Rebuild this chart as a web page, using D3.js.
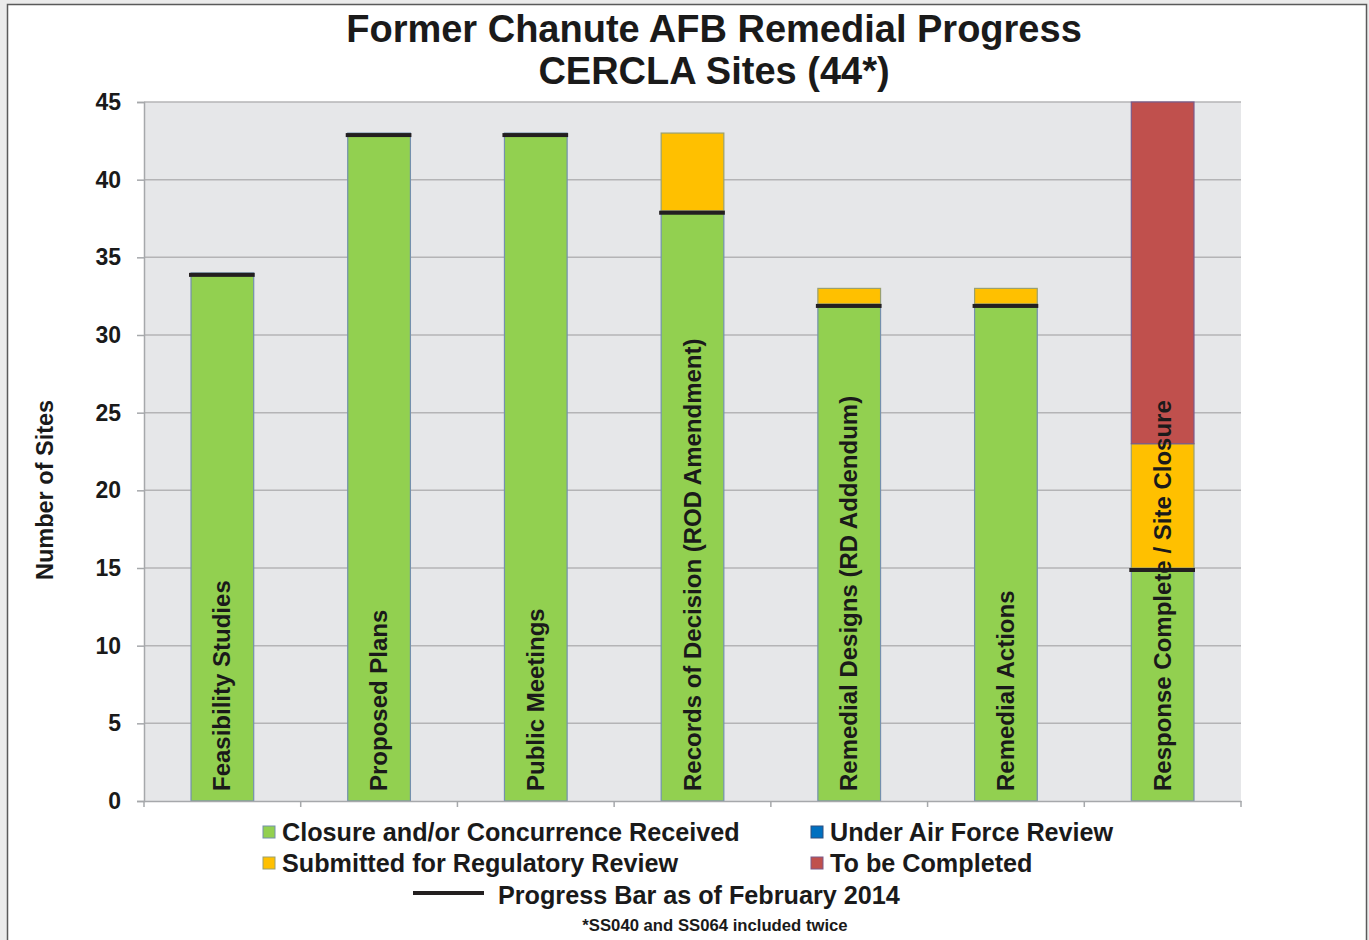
<!DOCTYPE html>
<html>
<head>
<meta charset="utf-8">
<script src="https://cdn.jsdelivr.net/npm/d3@7"></script>
<style>
  body { margin: 0; background: #ebebeb; }
  text { font-family: "Liberation Sans", Arial, sans-serif; font-weight: bold; fill: #1a1a1a; }
</style>
</head>
<body>
<div class="chart"></div>
<script>
var categories = ["Feasibility Studies", "Proposed Plans", "Public Meetings",
  "Records of Decision (ROD Amendment)", "Remedial Designs (RD Addendum)",
  "Remedial Actions", "Response Complete / Site Closure"];
var closure   = [34, 43, 43, 38, 32, 32, 15];
var airForce  = [0, 0, 0, 0, 0, 0, 0];
var submitted = [0, 0, 0, 5, 1, 1, 8];
var toDo      = [0, 0, 0, 0, 0, 0, 22];
var progress  = [34, 43, 43, 38, 32, 32, 15];
var yTicks = [0, 5, 10, 15, 20, 25, 30, 35, 40, 45];

var seriesKeys = ["closure", "airForce", "submitted", "toDo"];
var seriesNames = {
  closure: "Closure and/or Concurrence Received",
  airForce: "Under Air Force Review",
  submitted: "Submitted for Regulatory Review",
  toDo: "To be Completed"
};
var colors = { closure: "#92d050", airForce: "#0070c0", submitted: "#ffc000", toDo: "#c0504d" };
var strokes = { closure: "#7490ad", airForce: "#2f4f7f", submitted: "#9aa070", toDo: "#7a5a8a" };

var svgWidth = 1369, svgHeight = 940;
var margin = { top: 102, right: 128, bottom: 139, left: 144 };
var width = svgWidth - margin.left - margin.right;
var height = svgHeight - margin.top - margin.bottom;

var svg = d3.select('.chart')
  .append('svg')
  .attr('width', svgWidth)
  .attr('height', svgHeight);

// frame
svg.append('rect')
  .attr('x', 7.5).attr('y', 4.5)
  .attr('width', 1359).attr('height', 960)
  .attr('fill', '#fff')
  .attr('stroke', '#5a5a5a')
  .attr('stroke-width', 1.5);

var canvas = svg.append('g')
  .attr('transform', 'translate(' + margin.left + ',' + margin.top + ')');

var table = categories.map(function (c, i) {
  return { cat: c, closure: closure[i], airForce: airForce[i], submitted: submitted[i], toDo: toDo[i], progress: progress[i] };
});

var xScale = d3.scaleBand()
  .domain(categories)
  .range([0, width])
  .paddingInner(0.6)
  .paddingOuter(0.3);

var yScale = d3.scaleLinear()
  .domain([0, 45])
  .range([height, 0]);

canvas.append('rect')
  .attr('width', width).attr('height', height)
  .attr('fill', '#e6e7e9');

// gridlines
canvas.append('g')
  .selectAll('line')
  .data(yTicks.filter(function (d) { return d > 0; }))
  .enter()
  .append('line')
  .attr('x1', 0).attr('x2', width)
  .attr('y1', function (d) { return yScale(d); })
  .attr('y2', function (d) { return yScale(d); })
  .attr('stroke', '#b4b4b6')
  .attr('stroke-width', 1.5);

var stack = d3.stack().keys(seriesKeys)(table);

canvas.selectAll('.layer')
  .data(stack)
  .enter()
  .append('g')
  .attr('class', 'layer')
  .attr('fill', function (d) { return colors[d.key]; })
  .attr('stroke', function (d) { return strokes[d.key]; })
  .selectAll('rect')
  .data(function (d) { return d.filter(function (p) { return p[1] - p[0] > 0; }); })
  .enter()
  .append('rect')
  .attr('x', function (d) { return xScale(d.data.cat); })
  .attr('width', xScale.bandwidth())
  .attr('y', function (d) { return yScale(d[1]); })
  .attr('height', function (d) { return yScale(d[0]) - yScale(d[1]); })
  .attr('stroke-width', 1.2);

// progress bars
canvas.selectAll('.progress')
  .data(table)
  .enter()
  .append('rect')
  .attr('class', 'progress')
  .attr('x', function (d) { return xScale(d.cat) - 2; })
  .attr('width', xScale.bandwidth() + 3)
  .attr('y', function (d) { return yScale(d.progress); })
  .attr('height', 4)
  .attr('fill', '#231f20');

// category labels inside bars
canvas.selectAll('.cat')
  .data(categories)
  .enter()
  .append('text')
  .attr('class', 'cat')
  .attr('transform', function (d) {
    return 'translate(' + (xScale(d) + xScale.bandwidth() / 2 + 8) + ',' + (height - 10) + ') rotate(-90)';
  })
  .style('font-size', '24px')
  .text(function (d) { return d; });

// axes
var xAxis = d3.axisBottom(xScale).tickSize(0).tickFormat('');
canvas.append('g')
  .attr('class', 'x axis')
  .attr('transform', 'translate(0,' + height + ')')
  .call(xAxis)
  .call(function (g) { g.select('.domain').attr('stroke', '#a6a8ab').attr('stroke-width', 1.5); });

var bounds = d3.range(categories.length + 1).map(function (i) { return i * xScale.step(); });
canvas.append('g')
  .selectAll('line')
  .data(bounds)
  .enter()
  .append('line')
  .attr('x1', function (d) { return d; }).attr('x2', function (d) { return d; })
  .attr('y1', height).attr('y2', height + 6)
  .attr('stroke', '#a6a8ab').attr('stroke-width', 1.5);

var yAxis = d3.axisLeft(yScale).tickValues(yTicks).tickSize(7).tickPadding(16);
canvas.append('g')
  .attr('class', 'y axis')
  .call(yAxis)
  .call(function (g) {
    g.selectAll('path, line').attr('stroke', '#a6a8ab').attr('stroke-width', 1.5);
    g.selectAll('text').style('font-size', '23px').attr('fill', '#1a1a1a')
      .style('font-family', '"Liberation Sans", Arial, sans-serif');
  });

// y axis title
svg.append('text')
  .attr('transform', 'translate(53,' + (margin.top + height * 0.555) + ') rotate(-90)')
  .attr('text-anchor', 'middle')
  .style('font-size', '23.5px')
  .text('Number of Sites');

// title
svg.append('text')
  .attr('x', 714).attr('y', 42)
  .attr('text-anchor', 'middle')
  .style('font-size', '38px')
  .text('Former Chanute AFB Remedial Progress');
svg.append('text')
  .attr('x', 714).attr('y', 84)
  .attr('text-anchor', 'middle')
  .style('font-size', '38px')
  .text('CERCLA Sites (44*)');

// legend
var legendPos = [
  { key: 'closure', x: 263, y: 832 },
  { key: 'airForce', x: 811, y: 832 },
  { key: 'submitted', x: 263, y: 863 },
  { key: 'toDo', x: 811, y: 863 }
];
var legend = svg.append('g');
var item = legend.selectAll('g')
  .data(legendPos)
  .enter()
  .append('g')
  .attr('transform', function (d) { return 'translate(' + d.x + ',' + d.y + ')'; });
item.append('rect')
  .attr('x', 0).attr('y', -6)
  .attr('width', 12).attr('height', 12)
  .attr('fill', function (d) { return colors[d.key]; })
  .attr('stroke', function (d) { return strokes[d.key]; });
item.append('text')
  .attr('x', 19).attr('y', 9)
  .style('font-size', '25.2px')
  .text(function (d) { return seriesNames[d.key]; });

legend.append('line')
  .attr('x1', 413).attr('x2', 484)
  .attr('y1', 893).attr('y2', 893)
  .attr('stroke', '#231f20').attr('stroke-width', 4);
legend.append('text')
  .attr('x', 498).attr('y', 904)
  .style('font-size', '25.2px')
  .text('Progress Bar as of February 2014');

svg.append('text')
  .attr('x', 715).attr('y', 931)
  .attr('text-anchor', 'middle')
  .style('font-size', '16.7px')
  .text('*SS040 and SS064 included twice');
</script>
</body>
</html>
